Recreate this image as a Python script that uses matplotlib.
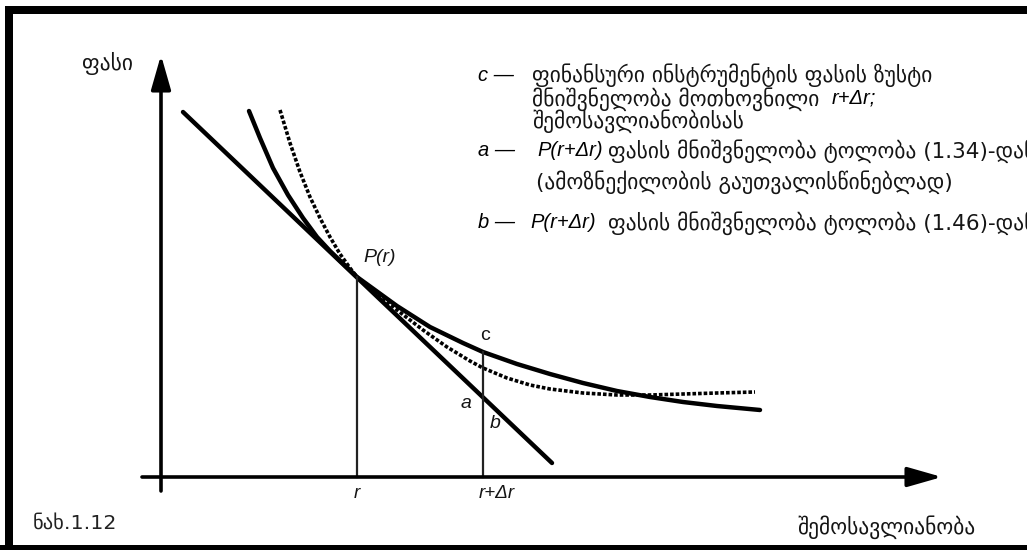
import matplotlib
matplotlib.use("Agg")
import matplotlib.pyplot as plt
from matplotlib.lines import Line2D

# Yield (horizontal) and price (vertical) in chart units
tangent_r = [0.22, 3.91]
tangent_p = [3.65, 0.14]

price_r = [0.88, 0.99, 1.12, 1.27, 1.42, 1.56, 1.69, 1.96, 2.36, 2.69, 3.02,
           3.22, 3.56, 3.89, 4.22, 4.56, 4.89, 5.22, 5.56, 5.99]
price_p = [3.66, 3.39, 3.09, 2.82, 2.59, 2.40, 2.26, 2.00, 1.71, 1.50, 1.34,
           1.25, 1.13, 1.03, 0.94, 0.86, 0.80, 0.75, 0.71, 0.67]

approx_r = [1.19, 1.29, 1.39, 1.49, 1.59, 1.69, 1.79, 1.89, 1.96, 2.36, 2.62,
            2.86, 3.09, 3.22, 3.46, 3.69, 3.89, 4.22, 4.56, 4.89, 5.22, 5.56, 5.94]
approx_p = [3.67, 3.34, 3.05, 2.80, 2.59, 2.40, 2.23, 2.09, 2.00, 1.67, 1.47,
            1.30, 1.16, 1.09, 0.99, 0.92, 0.88, 0.84, 0.82, 0.82, 0.83, 0.84, 0.85]

r0, p0 = 1.96, 2.00      # P(r)
r1, p1 = 3.22, 1.25      # exact price c at r+Δr

W, H = 1027, 550
fig = plt.figure(figsize=(W / 100, H / 100), dpi=100)
ax = fig.add_axes([0, 0, 1, 1])
ax.set_xlim(-1.61, 8.66)
ax.set_ylim(-0.73, 4.77)
ax.axis("off")

GEO = ["DejaVu Sans"]
LAT = ["Liberation Sans", "DejaVu Sans"]
ink = "#151515"

# coordinate axes with arrowheads
arrow = dict(arrowstyle="-|>,head_length=1.4,head_width=0.4", lw=2.6,
             color="black", mutation_scale=15, shrinkA=0, shrinkB=0)
ax.annotate("", xy=(0, 4.22), xytext=(0, -0.14), arrowprops=arrow)
ax.annotate("", xy=(7.81, 0), xytext=(-0.19, 0), arrowprops=arrow)

# curves
ax.plot(tangent_r, tangent_p, color="black", lw=3.2, solid_capstyle="round")
ax.plot(price_r, price_p, color="black", lw=3.2, solid_capstyle="round")
ax.plot(approx_r, approx_p, color="black", lw=2.6, linestyle=(0, (1.0, 0.55)),
        dash_capstyle="butt")

# drop lines to the yield axis
ax.plot([r0, r0], [0, p0], color="#222222", lw=1.6)
ax.plot([r1, r1], [0, p1], color="#222222", lw=1.6)

# point labels
ax.text(2.02, 2.19, "P(r)", family=LAT, style="italic", fontsize=14,
        ha="left", va="center", color=ink)
ax.text(3.24, 1.41, "c", family=LAT, fontsize=14, ha="center", va="center", color=ink)
ax.text(3.05, 0.74, "a", family=LAT, style="italic", fontsize=14,
        ha="center", va="center", color=ink)
ax.text(3.34, 0.53, "b", family=LAT, style="italic", fontsize=14,
        ha="center", va="center", color=ink)
ax.text(r0, -0.17, "r", family=LAT, style="italic", fontsize=13.5,
        ha="center", va="center", color=ink)
ax.text(r1 + 0.14, -0.17, "r+Δr", family=LAT, style="italic", fontsize=13.5,
        ha="center", va="center", color=ink)

renderer = fig.canvas.get_renderer()


def px_to_x(px):
    return ax.transData.inverted().transform((px, 0))[0]


def right_edge(t):
    bb = t.get_window_extent(renderer)
    return px_to_x(bb.x1)


# size of the Georgian lettering, set from the width of the first legend line
probe = ax.text(0, 0, "ფინანსური ინსტრუმენტის ფასის ზუსტი", family=GEO, fontsize=10)
w10 = probe.get_window_extent(renderer).width
probe.remove()
lsize = 10 * 400 / w10

# axis titles and figure number
ax.text(-0.54, 4.14, "ფასი", family=GEO, fontsize=lsize, ha="center",
        va="center", color=ink)
ax.text(6.36, -0.50, "შემოსავლიანობა", family=GEO, fontsize=lsize, ha="left",
        va="center", color=ink)
ax.text(-1.28, -0.46, "ნახ.1.12", family=GEO, fontsize=lsize * 0.95, ha="left",
        va="center", color="#222222")

# legend block
xk, xg = 3.17, 3.71
rows = [4.02, 3.78, 3.56, 3.26, 2.95, 2.54]

for y, key in [(rows[0], "c"), (rows[3], "a"), (rows[5], "b")]:
    ax.text(xk, y, key + " —", family=LAT, style="italic", fontsize=14.5,
            ha="left", va="center", color="black")

ax.text(xg, rows[0], "ფინანსური ინსტრუმენტის ფასის ზუსტი", family=GEO,
        fontsize=lsize, ha="left", va="center", color=ink)
t2 = ax.text(xg, rows[1], "მნიშვნელობა მოთხოვნილი", family=GEO,
             fontsize=lsize, ha="left", va="center", color=ink)
ax.text(right_edge(t2) + 0.12, rows[1] + 0.01, "r+Δr;", family=LAT, style="italic",
        fontsize=14.5, ha="left", va="center", color="black")
ax.text(xg, rows[2], "შემოსავლიანობისას", family=GEO, fontsize=lsize,
        ha="left", va="center", color=ink)

pa = ax.text(3.76, rows[3], "P(r+Δr)", family=LAT, style="italic", fontsize=14.5,
             ha="left", va="center", color="black")
ax.text(right_edge(pa) + 0.05, rows[3], "ფასის მნიშვნელობა ტოლობა (1.34)-დან",
        family=GEO, fontsize=lsize, ha="left", va="center", color=ink)
ax.text(3.75, rows[4], "(ამოზნექილობის გაუთვალისწინებლად)", family=GEO,
        fontsize=lsize, ha="left", va="center", color=ink)

pb = ax.text(3.69, rows[5], "P(r+Δr)", family=LAT, style="italic", fontsize=14.5,
             ha="left", va="center", color="black")
ax.text(right_edge(pb) + 0.12, rows[5], "ფასის მნიშვნელობა ტოლობა (1.46)-დან",
        family=GEO, fontsize=lsize, ha="left", va="center", color=ink)

# heavy picture frame (open on the right)
fw = 8 * 72 / 100
fig.add_artist(Line2D([9 / W, 9 / W], [0, 1 - 6 / H], transform=fig.transFigure,
                      color="black", lw=fw, solid_capstyle="butt"))
fig.add_artist(Line2D([5 / W, 1], [1 - 10 / H, 1 - 10 / H], transform=fig.transFigure,
                      color="black", lw=fw, solid_capstyle="butt"))
fig.add_artist(Line2D([0, 1], [1 - 549 / H, 1 - 549 / H], transform=fig.transFigure,
                      color="black", lw=fw, solid_capstyle="butt"))

fig.savefig("out.png", dpi=100)
